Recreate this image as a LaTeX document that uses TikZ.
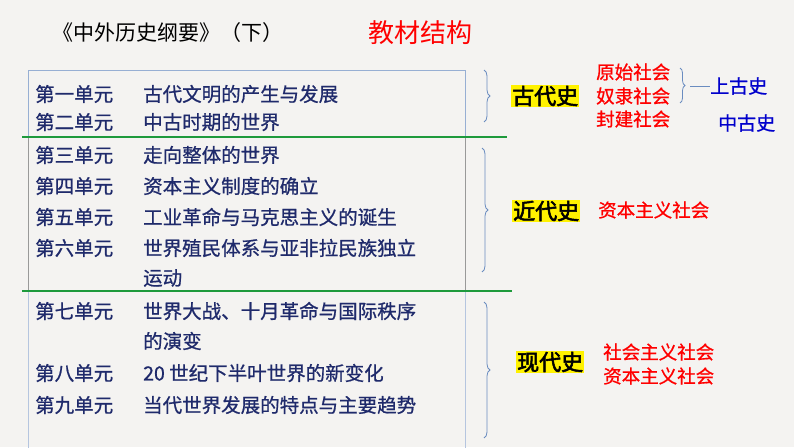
\documentclass[tikz,border=0pt]{standalone}
\usepackage{fontspec}
\setmainfont{Noto Sans CJK SC}
\newfontfamily\cjkb[FakeBold=2.5]{Noto Sans CJK SC}
\newfontfamily\cjkm[FakeBold=0.8]{Noto Sans CJK SC}
\usetikzlibrary{decorations.pathreplacing}
\definecolor{navy}{HTML}{1F2A6B}
\definecolor{bgc}{HTML}{F4F3F1}
\definecolor{grn}{HTML}{1E9A3C}
\definecolor{brc}{HTML}{6A8CC0}
\tikzset{row/.style={anchor=west,text=navy,font=\cjkm\fontsize{19.5}{19.5}\selectfont,inner sep=0},
 red/.style={anchor=west,text=red,font=\cjkm\fontsize{18.5}{18.5}\selectfont,inner sep=0},
 blu/.style={anchor=west,text=blue!80!black,font=\cjkm\fontsize{19}{19}\selectfont,inner sep=0},
 era/.style={anchor=west,fill=yellow,text=black,font=\cjkb\fontsize{22}{22}\selectfont,inner sep=1pt},
 brace/.style={draw=brc,thick,decorate,decoration={brace,amplitude=6pt}},
 sec/.style={draw=#1,line width=0.5pt}}
\begin{document}
\begin{tikzpicture}[x=1pt,y=-1pt]
\fill[bgc] (0,0) rectangle (794,447);
\useasboundingbox (0,0) rectangle (794,447);
\node[anchor=west,inner sep=0,font=\fontsize{21}{21}\selectfont] (t1) at (52,33) {《中外历史纲要》（下）};
\node[anchor=west,inner sep=0,text=red,font=\fontsize{26}{26}\selectfont] (t2) at (368,33) {教材结构};
\draw[sec=brc!70] (28,70) rectangle (465,137);
\draw[sec=gray!80] (28,137) rectangle (465,291);
\draw[sec=brc!50] (28,291) rectangle (465,450);
\draw[grn,line width=2pt] (22,137) -- (507,137);
\draw[grn,line width=2pt] (22,291) -- (512,291);
\foreach \y/\a/\b in {94/第一单元/古代文明的产生与发展,122/第二单元/中古时期的世界,155/第三单元/走向整体的世界,186/第四单元/资本主义制度的确立,217/第五单元/工业革命与马克思主义的诞生,248/第六单元/世界殖民体系与亚非拉民族独立,311/第七单元/世界大战、十月革命与国际秩序,373/第八单元/20 世纪下半叶世界的新变化,405/第九单元/当代世界发展的特点与主要趋势}{
 \node[row] at (35,\y) {\a};
 \node[row] at (143,\y) {\b};}
\node[row] (c1) at (143,278) {运动};
\node[row] (c2) at (143,341) {的演变};
\coordinate (b1a) at (484,70); \coordinate (b1b) at (484,122);
\draw[brace] (b1a) -- (b1b);
\coordinate (b2a) at (482,148); \coordinate (b2b) at (482,272);
\draw[brace] (b2a) -- (b2b);
\coordinate (b3a) at (484,302); \coordinate (b3b) at (484,438);
\draw[brace] (b3a) -- (b3b);
\node[era] (g) at (511,96) {古代史};
\node[era] (j) at (512,211) {近代史};
\node[era] (x) at (516,362) {现代史};
\node[red] (r1) at (596,72) {原始社会};
\node[red] (r2) at (596,96) {奴隶社会};
\node[red] (r3) at (596,119) {封建社会};
\node[red] (r4) at (598,210) {资本主义社会};
\node[red] (r5) at (603,352) {社会主义社会};
\node[red] (r6) at (603,376) {资本主义社会};
\coordinate (s1) at (680,68); \coordinate (s2) at (680,103);
\draw[brace,decoration={amplitude=5pt}] (s1) -- (s2);
\node[blu] (u1) at (710,86) {上古史};
\node[blu] (u2) at (718,123) {中古史};
\draw[brc,thick] (690,86) -- (u1.west);
\end{tikzpicture}
\end{document}
